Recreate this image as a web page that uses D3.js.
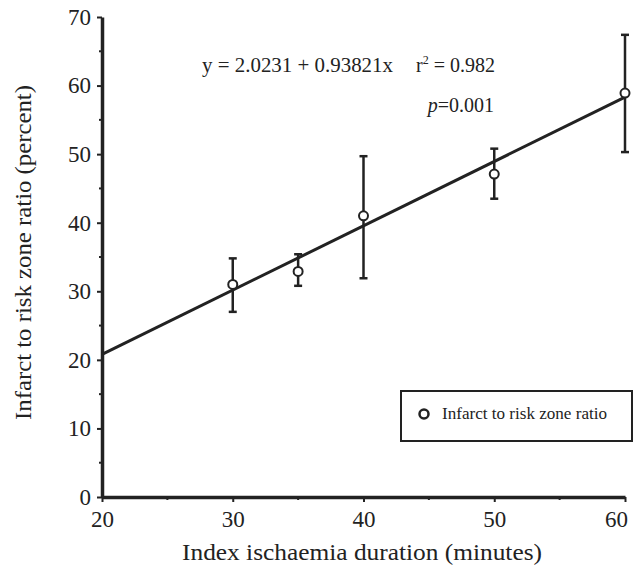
<!DOCTYPE html>
<html>
<head>
<meta charset="utf-8">
<script src="https://cdn.jsdelivr.net/npm/d3@7"></script>
<style>
  body { margin: 0; background: #fff; }
  text { font-family: "Liberation Serif", "DejaVu Serif", serif; fill: #222; }
</style>
</head>
<body>
<div id="chart"></div>
<script>
// data
const durations = [30, 35, 40, 50, 60];
const ratios = [31.0, 32.9, 41.0, 47.1, 58.9];
const errUpper = [34.8, 35.4, 49.7, 50.8, 67.4];
const errLower = [27.0, 30.8, 31.9, 43.5, 50.3];

const xTicks = [20, 30, 40, 50, 60];
const yTicks = [0, 10, 20, 30, 40, 50, 60, 70];

const intercept = 2.0231;
const slope = 0.93821;

const w = 635;
const h = 567;
const ink = "#222";

const xScale = d3.scaleLinear().domain([20, 60]).range([102, 625]);
const yScale = d3.scaleLinear().domain([0, 70]).range([497, 17]);

const svg = d3.select("#chart")
              .append("svg")
              .attr("width", w)
              .attr("height", h);

// axes
const xAxis = d3.axisBottom(xScale)
                .tickValues(xTicks)
                .tickSize(5)
                .tickSizeOuter(0);
const yAxis = d3.axisLeft(yScale)
                .tickValues(yTicks)
                .tickSize(5)
                .tickSizeOuter(0);

const gx = svg.append("g")
   .attr("transform", "translate(0," + yScale(0) + ")")
   .call(xAxis);
const gy = svg.append("g")
   .attr("transform", "translate(" + xScale(20) + ",0)")
   .call(yAxis);

[gx, gy].forEach(g => {
  g.select(".domain").attr("stroke", ink).attr("stroke-width", 3.5);
  g.selectAll(".tick line").attr("stroke", ink).attr("stroke-width", 2);
  g.selectAll(".tick text")
   .attr("font-family", "Liberation Serif, serif")
   .attr("font-size", 23)
   .attr("fill", ink);
});
gx.selectAll(".tick text").attr("y", 30).attr("dy", null)
  // last label sits against the page edge, as in the figure
  .attr("x", d => d === 60 ? -9 : 0);
gy.selectAll(".tick text").attr("x", -11);

// minor ticks
const minorX = d3.range(25, 60, 10);
const minorY = d3.range(5, 70, 10);
svg.append("g").selectAll("line")
   .data(minorX).enter().append("line")
   .attr("x1", d => xScale(d)).attr("x2", d => xScale(d))
   .attr("y1", yScale(0)).attr("y2", yScale(0) + 3)
   .attr("stroke", ink).attr("stroke-width", 2);
svg.append("g").selectAll("line")
   .data(minorY).enter().append("line")
   .attr("x1", xScale(20) - 3).attr("x2", xScale(20))
   .attr("y1", d => yScale(d)).attr("y2", d => yScale(d))
   .attr("stroke", ink).attr("stroke-width", 2);

// regression line
svg.append("line")
   .attr("x1", xScale(20)).attr("y1", yScale(intercept + slope * 20))
   .attr("x2", xScale(60)).attr("y2", yScale(intercept + slope * 60))
   .attr("stroke", ink)
   .attr("stroke-width", 3);

// error bars
const bars = svg.append("g").selectAll("g")
   .data(durations).enter().append("g");
bars.append("line")
   .attr("x1", d => xScale(d)).attr("x2", d => xScale(d))
   .attr("y1", (d, i) => yScale(errUpper[i]))
   .attr("y2", (d, i) => yScale(errLower[i]))
   .attr("stroke", ink).attr("stroke-width", 2.5);
bars.append("line")
   .attr("x1", d => xScale(d) - 4).attr("x2", d => xScale(d) + 4)
   .attr("y1", (d, i) => yScale(errUpper[i]))
   .attr("y2", (d, i) => yScale(errUpper[i]))
   .attr("stroke", ink).attr("stroke-width", 2.5);
bars.append("line")
   .attr("x1", d => xScale(d) - 4).attr("x2", d => xScale(d) + 4)
   .attr("y1", (d, i) => yScale(errLower[i]))
   .attr("y2", (d, i) => yScale(errLower[i]))
   .attr("stroke", ink).attr("stroke-width", 2.5);

// points
svg.append("g").selectAll("circle")
   .data(durations).enter().append("circle")
   .attr("cx", d => xScale(d))
   .attr("cy", (d, i) => yScale(ratios[i]))
   .attr("r", 4.5)
   .attr("fill", "#fff")
   .attr("stroke", ink)
   .attr("stroke-width", 2);

// equation text
svg.append("text")
   .attr("x", 202).attr("y", 72)
   .attr("font-size", 20)
   .attr("textLength", 191)
   .attr("lengthAdjust", "spacingAndGlyphs")
   .text("y = 2.0231 + 0.93821x");

svg.append("text")
   .attr("x", 495).attr("y", 72)
   .attr("text-anchor", "end")
   .attr("font-size", 20)
   .html('r<tspan dy="-8" font-size="12">2</tspan><tspan dy="8"> = 0.982</tspan>');

svg.append("text")
   .attr("x", 494).attr("y", 112)
   .attr("text-anchor", "end")
   .attr("font-size", 20)
   .html('<tspan font-style="italic">p</tspan>=0.001');

// legend
const legend = svg.append("g");
legend.append("rect")
   .attr("x", 401).attr("y", 391)
   .attr("width", 231).attr("height", 50)
   .attr("fill", "#fff")
   .attr("stroke", ink)
   .attr("stroke-width", 2);
legend.append("circle")
   .attr("cx", 424).attr("cy", 414)
   .attr("r", 4.5)
   .attr("fill", "#fff")
   .attr("stroke", ink)
   .attr("stroke-width", 2.5);
legend.append("text")
   .attr("x", 442).attr("y", 419)
   .attr("font-size", 16)
   .attr("textLength", 165)
   .attr("lengthAdjust", "spacingAndGlyphs")
   .text("Infarct to risk zone ratio");

// axis titles
svg.append("text")
   .attr("x", 182).attr("y", 560)
   .attr("font-size", 23)
   .attr("textLength", 360)
   .attr("lengthAdjust", "spacingAndGlyphs")
   .text("Index ischaemia duration (minutes)");

svg.append("text")
   .attr("transform", "translate(31,420) rotate(-90)")
   .attr("font-size", 23)
   .attr("textLength", 335)
   .attr("lengthAdjust", "spacingAndGlyphs")
   .text("Infarct to risk zone ratio (percent)");
</script>
</body>
</html>
